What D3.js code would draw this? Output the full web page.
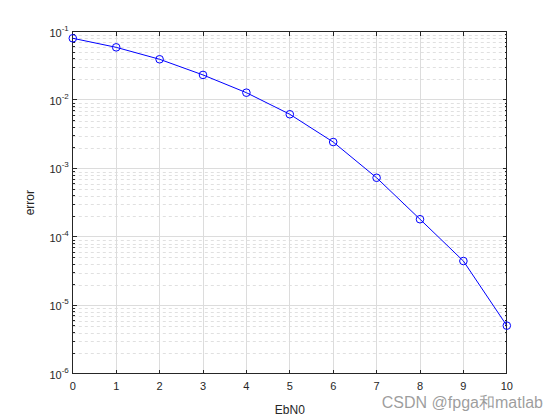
<!DOCTYPE html>
<html>
<head>
<meta charset="utf-8">
<script src="https://cdn.jsdelivr.net/npm/d3@7"></script>
<style>
  body { margin: 0; background: #fff; }
  svg { display: block; }
  text { font-family: "Liberation Sans", Arial, Helvetica, sans-serif; }
</style>
</head>
<body>
<svg id="chart" width="560" height="420"></svg>
<script>
// Data
const ebn0 = [0, 1, 2, 3, 4, 5, 6, 7, 8, 9, 10];
const errorRate = [0.0796, 0.0587, 0.0393, 0.0232, 0.01277, 0.00618, 0.00243, 7.3e-4, 1.81e-4, 4.44e-5, 5.05e-6];
const xTicks = [0, 1, 2, 3, 4, 5, 6, 7, 8, 9, 10];
const yTickExponents = [-6, -5, -4, -3, -2, -1];
const xLabel = "EbN0";
const yLabel = "error";
const watermark = "CSDN @fpga和matlab";

const svg = d3.select("#chart");
const pL = 72.8, pR = 506.8, pT = 31.5, pB = 373.8;

const x = d3.scaleLinear().domain([0, 10]).range([pL, pR]);
const y = d3.scaleLog().domain([1e-6, 1e-1]).range([pB, pT]);

svg.append("rect").attr("x", pL).attr("y", pT).attr("width", pR - pL).attr("height", pB - pT).attr("fill", "#fff");

const minorY = [];
yTickExponents.slice(0, -1).forEach(e => {
  for (let k = 2; k <= 9; k++) minorY.push(k * Math.pow(10, e));
});
const majorY = yTickExponents.map(e => Math.pow(10, e));

const grid = svg.append("g");
grid.selectAll("line.minor").data(minorY).enter().append("line")
  .attr("x1", pL).attr("x2", pR)
  .attr("y1", d => Math.round(y(d)) + 0.5).attr("y2", d => Math.round(y(d)) + 0.5)
  .attr("stroke", "#e0e0e0").attr("stroke-width", 1).attr("stroke-dasharray", "3,3");
grid.selectAll("line.majy").data(majorY).enter().append("line")
  .attr("x1", pL).attr("x2", pR)
  .attr("y1", d => y(d)).attr("y2", d => y(d))
  .attr("stroke", "#dcdcdc").attr("stroke-width", 1).attr("shape-rendering", "crispEdges");
grid.selectAll("line.majx").data(xTicks).enter().append("line")
  .attr("x1", d => x(d)).attr("x2", d => x(d))
  .attr("y1", pT).attr("y2", pB)
  .attr("stroke", "#dcdcdc").attr("stroke-width", 1).attr("shape-rendering", "crispEdges");

const tk = svg.append("g").attr("stroke", "#262626").attr("stroke-width", 1).attr("shape-rendering", "crispEdges");
const majLen = 4.3, minLen = 2.2;
xTicks.forEach(d => {
  tk.append("line").attr("x1", x(d)).attr("x2", x(d)).attr("y1", pB).attr("y2", pB - majLen);
  tk.append("line").attr("x1", x(d)).attr("x2", x(d)).attr("y1", pT).attr("y2", pT + majLen);
});
majorY.forEach(d => {
  tk.append("line").attr("x1", pL).attr("x2", pL + majLen).attr("y1", y(d)).attr("y2", y(d));
  tk.append("line").attr("x1", pR).attr("x2", pR - majLen).attr("y1", y(d)).attr("y2", y(d));
});
minorY.forEach(d => {
  tk.append("line").attr("x1", pL).attr("x2", pL + minLen).attr("y1", y(d)).attr("y2", y(d));
  tk.append("line").attr("x1", pR).attr("x2", pR - minLen).attr("y1", y(d)).attr("y2", y(d));
});

svg.append("rect").attr("x", pL).attr("y", pT).attr("width", pR - pL).attr("height", pB - pT)
  .attr("fill", "none").attr("stroke", "#262626").attr("stroke-width", 1).attr("shape-rendering", "crispEdges");

svg.append("g").selectAll("text").data(xTicks).enter().append("text")
  .attr("x", d => x(d)).attr("y", pB + 16.5)
  .attr("text-anchor", "middle").attr("font-size", 11).attr("fill", "#262626")
  .text(d => d);

const yl = svg.append("g");
yTickExponents.forEach(e => {
  const t = yl.append("text").attr("x", pL - 4).attr("y", y(Math.pow(10, e)) + 5)
    .attr("text-anchor", "end").attr("font-size", 11).attr("fill", "#262626");
  t.append("tspan").text("10");
  t.append("tspan").attr("dy", -6).attr("font-size", 8).text(String(e));
});

svg.append("text").attr("x", (pL + pR) / 2).attr("y", 414)
  .attr("text-anchor", "middle").attr("font-size", 12).attr("fill", "#262626").text(xLabel);
svg.append("text").attr("transform", `translate(34,${(pT + pB) / 2}) rotate(-90)`)
  .attr("text-anchor", "middle").attr("font-size", 12).attr("fill", "#262626").text(yLabel);

const line = d3.line().x((d, i) => x(ebn0[i])).y(d => y(d));
svg.append("path").datum(errorRate).attr("d", line)
  .attr("fill", "none").attr("stroke", "#0000ff").attr("stroke-width", 1);
svg.append("g").selectAll("circle").data(errorRate).enter().append("circle")
  .attr("cx", (d, i) => x(ebn0[i])).attr("cy", d => y(d)).attr("r", 3.8)
  .attr("fill", "none").attr("stroke", "#0000ff").attr("stroke-width", 1);

svg.append("text").attr("x", 543).attr("y", 408).attr("text-anchor", "end")
  .attr("font-size", 16).attr("fill", "#8c8c8c").attr("fill-opacity", 0.85)
  .attr("font-family", "'Noto Sans CJK SC', 'Liberation Sans', sans-serif")
  .text(watermark);
</script>
</body>
</html>
